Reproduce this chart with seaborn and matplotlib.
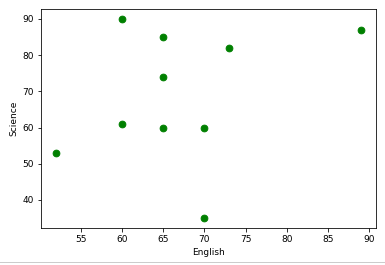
import matplotlib
matplotlib.use("Agg")
import matplotlib.pyplot as plt
import seaborn as sns
import pandas as pd

english = [52, 60, 60, 65, 65, 65, 70, 70, 73, 89]
science = [53, 90, 61, 85, 74, 60, 60, 35, 82, 87]

df = pd.DataFrame({"English": english, "Science": science})

fig = plt.figure(figsize=(385 / 72, 265 / 72), dpi=72)
ax = fig.add_axes([41 / 385, 1 - 228 / 265, (376 - 41) / 385, (228 - 9) / 265])
sns.scatterplot(data=df, x="English", y="Science", color="green", s=45,
                edgecolor="green", linewidth=1, ax=ax)
ax.set_xticks([55, 60, 65, 70, 75, 80, 85, 90])
ax.set_yticks([40, 50, 60, 70, 80, 90])
ax.tick_params(labelsize=9)
ax.set_xlabel("English", fontsize=9)
ax.set_ylabel("Science", fontsize=9)
fig.add_artist(plt.Line2D([0, 1], [1 - 262 / 265] * 2, color="#cccccc", lw=1,
                          transform=fig.transFigure))
fig.savefig("out.png", dpi=72)
